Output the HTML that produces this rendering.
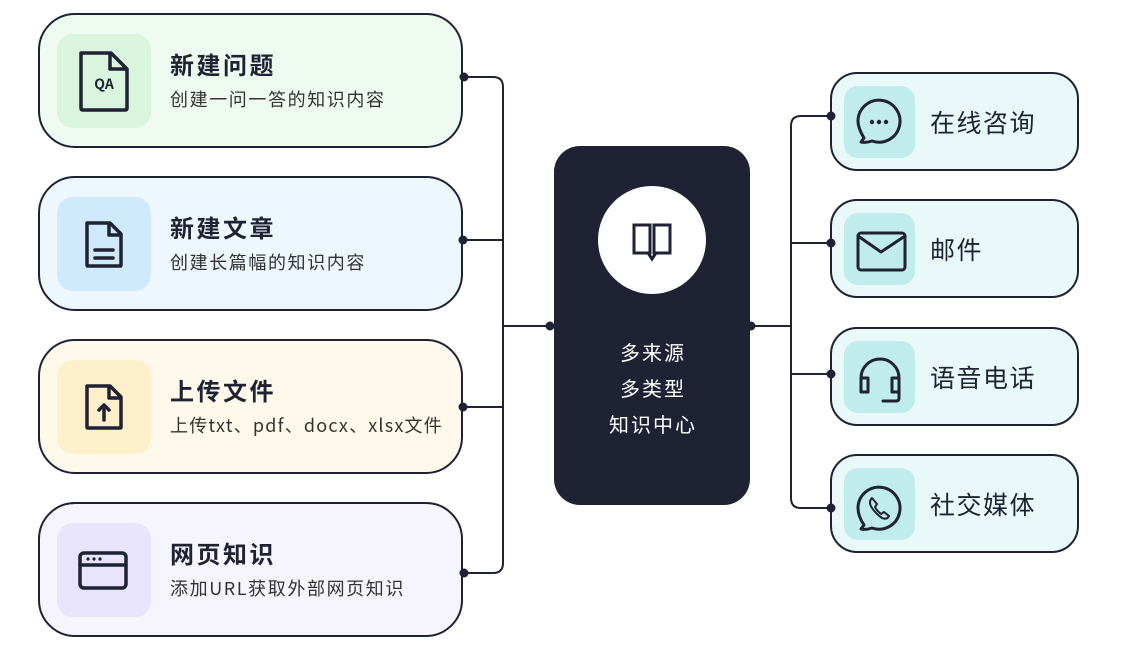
<!DOCTYPE html>
<html><head><meta charset="utf-8"><style>
body{margin:0;background:#fff;width:1136px;height:652px;overflow:hidden}
text{font-family:"Noto Sans CJK SC","Liberation Sans",sans-serif}
</style></head><body>
<svg width="1136" height="652" viewBox="0 0 1136 652" xmlns="http://www.w3.org/2000/svg">
<g fill="none" stroke="#1e2233" stroke-width="2">
<path d="M463 77 H493 Q503 77 503 87 V563 Q503 573 493 573 H463"/>
<path d="M463 240 H503 M463 407 H503 M503 326 H550"/>
<path d="M751 326 H791 M831 116 H801 Q791 116 791 126 V498 Q791 508 801 508 H831 M791 243 H831 M791 374 H831"/>
</g>
<g stroke="#1e2233" stroke-width="2">
<rect x="39" y="14" width="423" height="133" rx="36" fill="#effaf0"/>
<rect x="39" y="177" width="423" height="133" rx="36" fill="#eef7fe"/>
<rect x="39" y="340" width="423" height="133" rx="36" fill="#fff9ec"/>
<rect x="39" y="503" width="423" height="133" rx="36" fill="#f6f5fe"/>
</g>
<rect x="57" y="34" width="94" height="94" rx="16" fill="#d9f5dd"/>
<rect x="57" y="197" width="94" height="94" rx="16" fill="#d0eafd"/>
<rect x="57" y="360" width="94" height="94" rx="16" fill="#fff0cc"/>
<rect x="57" y="523" width="94" height="94" rx="16" fill="#e9e4fd"/>
<g fill="none" stroke="#1e2233" stroke-width="3.5" stroke-linejoin="round" stroke-linecap="round">
<path d="M81 53 H111 L127 69 V108 Q127 110 125 110 H83 Q81 110 81 108 Z M110 53 V69 H127"/>
<path d="M87 223 H110 L121 234 V265 Q121 266 120 266 H88 Q87 266 87 265 Z M109 223 V235 H121 M95 250 H113 M95 258 H113"/>
<path d="M87 386 H110 L121 397 V427 Q121 428 120 428 H88 Q87 428 87 427 Z M109 386 V398 H121 M104 420 V405 M99 410 L104 405 L109 410"/>
<rect x="80" y="553" width="46" height="35" rx="4"/><path d="M80 565 H126"/>
</g>
<text x="104" y="89" font-size="14" font-weight="bold" fill="#1e2233" text-anchor="middle">QA</text>
<g fill="#1e2233"><circle cx="88" cy="559" r="1.6"/><circle cx="94" cy="559" r="1.6"/><circle cx="100" cy="559" r="1.6"/></g>
<g fill="#1e2233" font-size="24" font-weight="bold" letter-spacing="2.5">
<text x="170" y="74">新建问题</text><text x="170" y="237">新建文章</text>
<text x="170" y="400">上传文件</text><text x="170" y="563">网页知识</text>
</g>
<g fill="#333" font-size="18" letter-spacing="1.6">
<text x="170" y="106">创建一问一答的知识内容</text><text x="170" y="269">创建长篇幅的知识内容</text>
<text x="170" y="432" letter-spacing="1.2">上传txt、pdf、docx、xlsx文件</text><text x="170" y="595">添加URL获取外部网页知识</text>
</g>
<rect x="554" y="146" width="196" height="359" rx="26" fill="#1e2233"/>
<circle cx="652" cy="240" r="54" fill="#fff"/>
<path d="M634 225 H650 V253 H634 Z M654 225 H670 V253 H654 Z M648 253 L652 259 L656 253" fill="none" stroke="#1e2233" stroke-width="3"/>
<g fill="#fff" font-size="20" text-anchor="middle" letter-spacing="2">
<text x="653" y="360">多来源</text><text x="653" y="396">多类型</text><text x="653" y="432">知识中心</text>
</g>
<g stroke="#1e2233" stroke-width="2" fill="#e9f8f8">
<rect x="831" y="73" width="247" height="97" rx="26"/>
<rect x="831" y="200" width="247" height="97" rx="26"/>
<rect x="831" y="328" width="247" height="97" rx="26"/>
<rect x="831" y="455" width="247" height="97" rx="26"/>
</g>
<g fill="#c0ecec">
<rect x="844" y="86" width="71" height="72" rx="14"/><rect x="844" y="213" width="71" height="72" rx="14"/>
<rect x="844" y="341" width="71" height="72" rx="14"/><rect x="844" y="468" width="71" height="72" rx="14"/>
</g>
<g fill="none" stroke="#1e2233" stroke-width="3" stroke-linejoin="round" stroke-linecap="round">
<path d="M864 138 Q858 128 858 121 A21 21 0 1 1 872 141 Q866 143 861 142 Z"/>
<rect x="858" y="233" width="47" height="37" rx="3"/><path d="M858 236 L881 252 L905 236"/>
<path d="M861 388 V378 A19 19 0 0 1 899 378 V388 M861 378 H868 V392 H861 Z M899 378 H892 V392 H899 Z M899 392 V398 Q899 401 896 401 H883"/>
<path d="M864 525 Q858 516 858 508 A21 21 0 1 1 872 528 Q866 530 861 529 Z"/>
<path d="M872 498 Q868 502 872 508 Q876 514 882 518 Q887 520 889 516 L884 512 L881 514 Q877 511 875 507 L877 504 Z" stroke-width="2"/>
</g>
<g fill="#1e2233"><circle cx="872" cy="122" r="2.2"/><circle cx="879" cy="122" r="2.2"/><circle cx="886" cy="122" r="2.2"/></g>
<g fill="#1e2233" font-size="25" letter-spacing="1.5">
<text x="930" y="132">在线咨询</text><text x="930" y="259">邮件</text>
<text x="930" y="387">语音电话</text><text x="930" y="514">社交媒体</text>
</g>
<g fill="#1e2233">
<circle cx="464" cy="77" r="4.5"/><circle cx="463" cy="240" r="4.5"/><circle cx="463" cy="407" r="4.5"/><circle cx="464" cy="573" r="4.5"/>
<circle cx="550" cy="326" r="4.5"/><circle cx="751" cy="326" r="4.5"/>
<circle cx="831" cy="116" r="4.5"/><circle cx="831" cy="243" r="4.5"/><circle cx="831" cy="374" r="4.5"/><circle cx="831" cy="508" r="4.5"/>
</g>
</svg>
</body></html>
